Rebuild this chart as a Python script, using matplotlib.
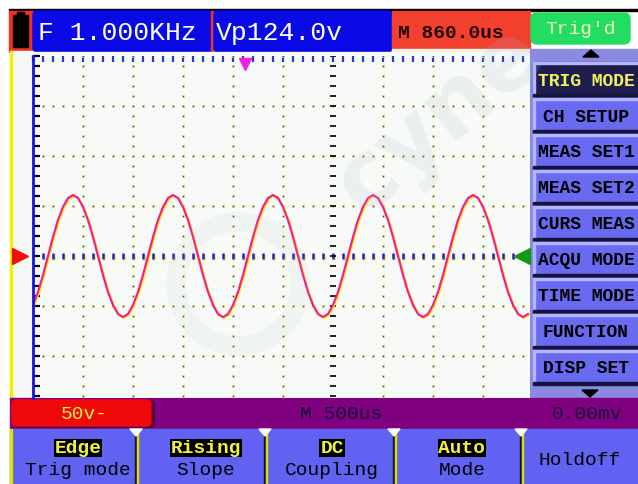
import numpy as np
import matplotlib
matplotlib.use("Agg")
import matplotlib.pyplot as plt
from matplotlib.patches import Rectangle, FancyBboxPatch, Circle, Polygon
from matplotlib.transforms import ScaledTranslation

# ---------------------------------------------
# scope readings (taken off the screen)
# ---------------------------------------------
freq_text = "F 1.000KHz"
vpp_text = "Vp124.0v"
trig_pos_text = "M 860.0us"
status_text = "Trig'd"
volts_div_text = "50v-"
time_div_text = "M 500us"
trig_level_text = "0.00mv"

menu_items = ["TRIG MODE", "CH SETUP", "MEAS SET1", "MEAS SET2", "CURS MEAS",
              "ACQU MODE", "TIME MODE", "FUNCTION", "DISP SET"]
soft_top = ["Edge", "Rising", "DC", "Auto", ""]
soft_bottom = ["Trig mode", "Slope", "Coupling", "Mode", "Holdoff"]

# CH1 trace, one sample every 50 us, volts
trace_t = np.arange(0, 4951, 50)
trace_v = [
    -49, -36, -19, 0, 19, 36, 49, 58, 61, 58, 49, 36, 19, 0, -19, -36, -49, -58, -61, -58,
    -49, -36, -19, 0, 19, 36, 49, 58, 61, 58, 49, 36, 19, 0, -19, -36, -49, -58, -61, -58,
    -49, -36, -19, 0, 19, 36, 49, 58, 61, 58, 49, 36, 19, 0, -19, -36, -49, -58, -61, -58,
    -49, -36, -19, 0, 19, 36, 49, 58, 61, 58, 49, 36, 19, 0, -19, -36, -49, -58, -61, -58,
    -49, -36, -19, 0, 19, 36, 49, 58, 61, 58, 49, 36, 19, 0, -19, -36, -49, -58, -61, -58,
]

MONO = "Liberation Mono"
BLUE = "#0A0AE6"
BTN = "#6A6AF0"
W, H = 638, 485


def fbox(x0, y0, x1, y1):
    return [x0 / W, 1 - y1 / H, (x1 - x0) / W, (y1 - y0) / H]


fig = plt.figure(figsize=(W / 100, H / 100), dpi=100)
fig.patch.set_facecolor("white")

# background / panel axes in pixel units
bg = fig.add_axes([0, 0, 1, 1], zorder=0)
bg.set_xlim(0, W)
bg.set_ylim(H, 0)
bg.axis("off")

# ---- top bar ----
bg.add_patch(Rectangle((9, 10), W - 9, 2, color="black"))
bg.add_patch(Rectangle((9, 12), 24, 41, color="#F03020"))
bg.add_patch(Rectangle((13, 16), 15, 32, color="black"))
bg.add_patch(Rectangle((17, 13), 7, 3, color="black"))
bg.add_patch(FancyBboxPatch((33, 12), 179, 41, boxstyle="round,pad=0,rounding_size=4",
                            color=BLUE))
bg.add_patch(Rectangle((211, 12), 2, 41, color="#F03020"))
bg.add_patch(FancyBboxPatch((214, 12), 178, 41, boxstyle="round,pad=0,rounding_size=4",
                            color=BLUE))
bg.add_patch(Rectangle((392, 12), 138, 38, color="#F2402E"))
bg.add_patch(Rectangle((392, 50), 138, 5, color="#F2F2E4"))
bg.add_patch(FancyBboxPatch((531, 14), 99, 31, boxstyle="round,pad=0,rounding_size=6",
                            color="#22DD62"))
bg.text(38, 33, freq_text, color="white", fontsize=19, family=MONO, va="center")
bg.text(216, 33, vpp_text, color="white", fontsize=19, family=MONO, va="center")
bg.text(398, 33, trig_pos_text, color="#200000", fontsize=14, family=MONO,
        va="center", weight="bold")
bg.text(580, 30, status_text, color="#F4F4C0", fontsize=14, family=MONO,
        va="center", ha="center")

# left strip
bg.add_patch(Rectangle((10, 52), 23, 347, color="#F5F8F5"))
bg.add_patch(Rectangle((10, 52), 2, 347, color="#F0F000"))
bg.add_patch(Rectangle((33, 53), 497, 4, color="#F7FAF7"))

# ---- right menu ----
bg.add_patch(Rectangle((530, 50), W - 530, 349, color="#8A8AE2"))
bg.add_patch(Polygon([[583, 58], [599, 58], [591, 51]], color="black"))
bg.add_patch(Polygon([[582, 391], [598, 391], [590, 398]], color="black"))
for i, name in enumerate(menu_items):
    top = 63 + 36 * i
    fill = "#1E1E4E" if i == 0 else BTN
    bg.add_patch(Rectangle((533, top), W - 533, 34, color=fill))
    bg.add_patch(Rectangle((533, top), W - 533, 1.5, color="#B4B4FF"))
    bg.add_patch(Rectangle((533, top), 1.5, 34, color="#B4B4FF"))
    bg.add_patch(Rectangle((533, top + 32), W - 533, 2.5, color="#14143C"))
    tc = "#F0F060" if i == 0 else "black"
    bg.text(586, top + 18, name, color=tc, fontsize=13, family=MONO,
            ha="center", va="center", weight="bold")

# ---- status bar ----
bg.add_patch(Rectangle((10, 399), W - 10, 30, color="#800080"))
bg.add_patch(FancyBboxPatch((14, 402), 140, 26, boxstyle="round,pad=0,rounding_size=4",
                            color="#500030"))
bg.add_patch(FancyBboxPatch((12, 401), 139, 26, boxstyle="round,pad=0,rounding_size=4",
                            color="#EE0A0A"))
bg.text(84, 415, volts_div_text, color="#F0F040", fontsize=14, family=MONO,
        ha="center", va="center")
bg.text(300, 415, time_div_text, color="#14003C", fontsize=14, family=MONO, va="center")
bg.text(622, 415, trig_level_text, color="#14003C", fontsize=14, family=MONO,
        ha="right", va="center")

# ---- soft keys ----
bg.add_patch(Rectangle((10, 430), W - 10, H - 430, color="#6262F2"))
bg.add_patch(Rectangle((10, 430), 2, H - 430, color="#E0E000"))
for xs in [135, 264, 393, 520]:
    bg.add_patch(Rectangle((xs, 432), 2, H - 432, color="#14143C"))
    bg.add_patch(Rectangle((xs + 2, 432), 1, H - 432, color="#E0E000"))
    bg.add_patch(Polygon([[xs - 5, 430], [xs + 7, 430], [xs + 1, 437]], color="white"))
key_cx = [78, 206, 332, 462, 580]
for cx, t1, t2 in zip(key_cx, soft_top, soft_bottom):
    if t1:
        bg.text(cx, 449, t1, color="#F0F040", fontsize=14, family=MONO, ha="center",
                va="center", weight="bold",
                bbox=dict(boxstyle="square,pad=0.05", fc="black", ec="none"))
        bg.text(cx, 471, t2, color="black", fontsize=14, family=MONO, ha="center",
                va="center")
    else:
        bg.text(cx, 461, t2, color="black", fontsize=14, family=MONO, ha="center",
                va="center")

# ---------------------------------------------
# scope screen
# ---------------------------------------------
sc = fig.add_axes(fbox(33, 57, 530, 399), zorder=1)
sc.set_facecolor("#F7FAF7")
sc.set_xlim(0, 4970)
sc.set_ylim(-142, 200)
for s in ["top", "right", "bottom"]:
    sc.spines[s].set_visible(False)
sc.spines["left"].set_color("#1414E0")
sc.spines["left"].set_linewidth(2)
sc.set_yticks(np.arange(-140, 201, 10))
sc.tick_params(axis="y", direction="in", length=5, width=1.6, color="black",
               labelleft=False)
sc.xaxis.set_ticks_position("top")
sc.set_xticks(np.arange(0, 4971, 100))
sc.tick_params(axis="x", direction="in", length=4, width=1.6, color="#2838C8",
               labeltop=False, labelbottom=False)

dot = dict(ls="none", marker="s", ms=1.7, mfc="#2020E0", mec="#F0F040", mew=0.5)
v_lines = [500, 1000, 1500, 2000, 2500, 3500, 4000, 4500]
h_lines = [150, 100, 50, -50, -100]
vy = np.arange(-140, 201, 10)
tx = np.arange(100, 4970, 100)
for t in v_lines:
    sc.plot(np.full(len(vy), t), vy, **dot)
for v in h_lines:
    sc.plot(tx, np.full(len(tx), v), **dot)
# centre lines
sc.plot(tx, np.zeros(len(tx)), ls="none", marker="|", ms=4.5, mew=2.2, color="#F0F040",
        transform=sc.transData + ScaledTranslation(1 / 100, -1 / 100, fig.dpi_scale_trans))
sc.plot(tx, np.zeros(len(tx)), ls="none", marker="|", ms=4.5, mew=1.8, color="#2020E0")
sc.plot(np.full(len(vy), 3000), vy, ls="none", marker="_", ms=5, mew=1.3, color="#101010")

# trace
shadow = sc.transData + ScaledTranslation(0.8 / 100, -0.8 / 100, fig.dpi_scale_trans)
sc.plot(trace_t, trace_v, color="#FFE600", lw=1.8, transform=shadow)
sc.plot(trace_t, trace_v, color="#F4189C", lw=1.5)

# markers
sc.plot([-130], [0], marker=">", ms=11, color="#F01010", clip_on=False)
sc.plot([4890], [0], marker="<", ms=11, color="#109A10", clip_on=False)
sc.plot([2120], [192], marker="v", ms=9, color="#F020E0", clip_on=False)

# ---- faint watermark ----
ov = fig.add_axes([0, 0, 1, 1], zorder=5)
ov.set_xlim(0, W)
ov.set_ylim(H, 0)
ov.axis("off")
ov.patch.set_alpha(0)
ov.text(440, 120, "cyne", rotation=40, fontsize=66, color="#A8B8C8", alpha=0.16,
        ha="center", va="center", weight="bold", family="DejaVu Sans")
ov.add_patch(Circle((238, 285), 62, fill=False, lw=14, ec="#A8B8C8", alpha=0.09))

fig.savefig("out.png", dpi=100)
